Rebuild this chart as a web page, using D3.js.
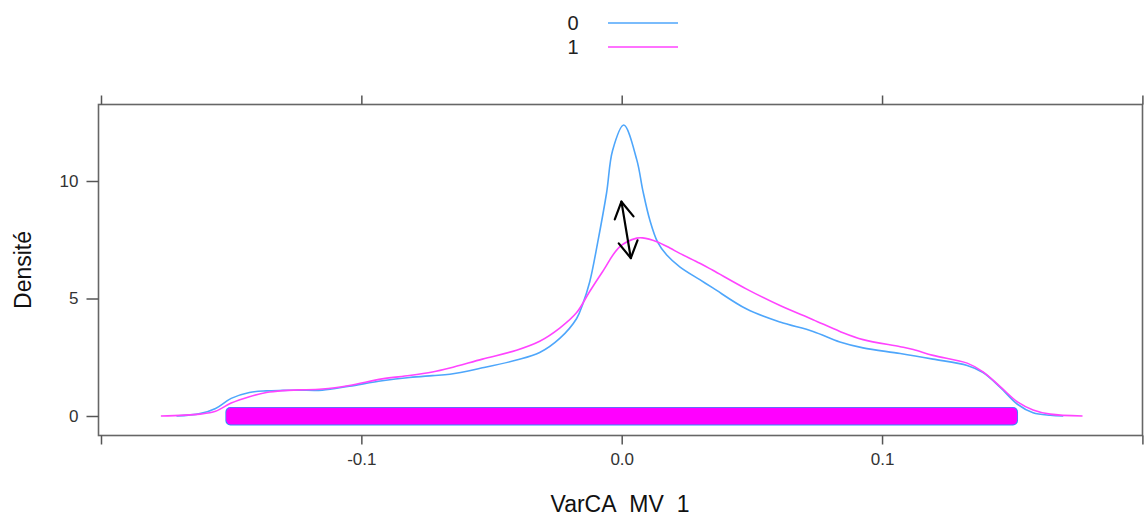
<!DOCTYPE html>
<html>
<head>
<meta charset="utf-8">
<script src="https://cdn.jsdelivr.net/npm/d3@7"></script>
<style>
  html, body { margin: 0; padding: 0; background: #fff; }
  svg { display: block; }
  text { font-family: "Liberation Sans", Arial, Helvetica, sans-serif; }
</style>
</head>
<body>
<svg id="chart" width="1144" height="515"></svg>
<script>
// ---------- data ----------
const groups = ["0", "1"];
const xTicks = [-0.2, -0.1, 0.0, 0.1, 0.2];
const xTickLabels = ["", "-0.1", "0.0", "0.1", ""];
const yTicks = [0, 5, 10];
const yTickLabels = ["0", "5", "10"];

// density of group 0 (x, density)
const dens0X = [-0.171, -0.162, -0.156, -0.150, -0.143, -0.1365, -0.130, -0.124, -0.115, -0.1046, -0.092, -0.0815, -0.0727, -0.066, -0.0535, -0.0404, -0.0315, -0.0238, -0.0173, -0.015, -0.0123, -0.0092, -0.0058, -0.0035, 0.0008, 0.0058, 0.0081, 0.0108, 0.0138, 0.0173, 0.0223, 0.030, 0.035, 0.048, 0.0608, 0.0735, 0.0838, 0.0927, 0.107, 0.1196, 0.1327, 0.1388, 0.1454, 0.152, 0.158, 0.1646, 0.1696];
const dens0Y = [0, 0.1, 0.32, 0.75, 1.0, 1.07, 1.09, 1.1, 1.1, 1.27, 1.5, 1.64, 1.72, 1.78, 2.05, 2.38, 2.7, 3.3, 4.15, 4.75, 5.7, 7.4, 9.5, 11.3, 12.38, 10.9, 9.6, 8.34, 7.4, 6.85, 6.35, 5.8, 5.45, 4.55, 4.0, 3.6, 3.15, 2.9, 2.66, 2.42, 2.15, 1.85, 1.22, 0.5, 0.14, 0.03, 0];

// density of group 1 (x, density)
const dens1X = [-0.177, -0.162, -0.156, -0.150, -0.143, -0.1365, -0.130, -0.124, -0.115, -0.1046, -0.092, -0.0815, -0.0727, -0.066, -0.0535, -0.0404, -0.0315, -0.0238, -0.0173, -0.0123, -0.0073, -0.0008, 0.0058, 0.008, 0.0135, 0.0185, 0.0223, 0.030, 0.035, 0.048, 0.0608, 0.0735, 0.0838, 0.0927, 0.107, 0.112, 0.1196, 0.1327, 0.1388, 0.1454, 0.152, 0.158, 0.1646, 0.177];
const dens1Y = [0, 0.08, 0.2, 0.55, 0.82, 1.0, 1.08, 1.11, 1.15, 1.3, 1.58, 1.72, 1.87, 2.04, 2.42, 2.8, 3.18, 3.74, 4.4, 5.3, 6.15, 7.2, 7.57, 7.58, 7.42, 7.15, 6.92, 6.5, 6.2, 5.4, 4.7, 4.1, 3.6, 3.25, 2.95, 2.83, 2.58, 2.25, 1.88, 1.25, 0.6, 0.26, 0.08, 0];

// extent of the jittered observations (rug band) per group
const rugMin = [-0.150, -0.150];
const rugMax = [0.150, 0.150];

// annotation arrow (data coords): top tip, bottom tip
const arrowX = [-0.0001, 0.0035];
const arrowY = [9.12, 6.72];

// ---------- layout ----------
const colors = ["#4ea6fb", "#ff44ff"];
const rugColors = ["#2f8cff", "#ff00ff"];
const svg = d3.select("#chart");
const frame = { left: 98.5, right: 1142.5, top: 104.5, bottom: 435.5 };

const x = d3.scaleLinear().domain([-0.2, 0.2]).range([101, 1142.4]);
const y = d3.scaleLinear().domain([0, 10]).range([416, 181]);

// rug bands (group 0 first, group 1 on top)
groups.forEach((g, i) => {
  const pad = i === 0 ? 0.8 : 0;
  svg.append("rect")
    .attr("x", x(rugMin[i]) - 5 - pad)
    .attr("y", y(0) - 8.2 - pad)
    .attr("width", x(rugMax[i]) - x(rugMin[i]) + 10 + 2 * pad)
    .attr("height", 16.8 + 2 * pad)
    .attr("rx", 5).attr("ry", 5)
    .attr("fill", rugColors[i]);
});

// density curves
const line = d3.line().x(d => x(d[0])).y(d => y(d[1])).curve(d3.curveCatmullRom.alpha(0.5));
const series = [d3.zip(dens0X, dens0Y), d3.zip(dens1X, dens1Y)];
series.forEach((s, i) => {
  svg.append("path").datum(s)
    .attr("d", line)
    .attr("fill", "none")
    .attr("stroke", colors[i])
    .attr("stroke-width", 1.6)
    .attr("stroke-linejoin", "round");
});

// frame
svg.append("rect")
  .attr("x", frame.left).attr("y", frame.top)
  .attr("width", frame.right - frame.left).attr("height", frame.bottom - frame.top)
  .attr("fill", "none").attr("stroke", "#666").attr("stroke-width", 1.6);

// axes
const axisStyle = g => {
  g.select(".domain").remove();
  g.selectAll(".tick line").attr("stroke", "#555").attr("stroke-width", 1.5);
  g.selectAll(".tick text").attr("fill", "#333").style("font-size", "17px")
    .style("font-family", "'Liberation Sans', Arial, sans-serif");
};
svg.append("g").attr("transform", `translate(0,${frame.bottom})`)
  .call(d3.axisBottom(x).tickValues(xTicks).tickSize(9).tickPadding(8)
    .tickFormat((d, i) => xTickLabels[i]))
  .call(axisStyle);
svg.append("g").attr("transform", `translate(0,${frame.top})`)
  .call(d3.axisTop(x).tickValues(xTicks).tickSize(9).tickFormat(""))
  .call(axisStyle);
svg.append("g").attr("transform", `translate(${frame.left},0)`)
  .call(d3.axisLeft(y).tickValues(yTicks).tickSize(12).tickPadding(8)
    .tickFormat((d, i) => yTickLabels[i]))
  .call(axisStyle);

// annotation arrow
const ax1 = x(arrowX[0]), ay1 = y(arrowY[0]), ax2 = x(arrowX[1]), ay2 = y(arrowY[1]);
const arrowG = svg.append("g").attr("stroke", "#000").attr("stroke-width", 2.2)
  .attr("fill", "none").attr("stroke-linecap", "round").attr("stroke-linejoin", "round");
arrowG.append("line").attr("x1", ax1).attr("y1", ay1).attr("x2", ax2).attr("y2", ay2);
const ang = Math.atan2(ay2 - ay1, ax2 - ax1);
const head = (px, py, dir) => {
  const L = 19, spread = Math.PI / 6;
  const a = ang + (dir > 0 ? 0 : Math.PI);
  const p1 = [px - L * Math.cos(a - spread), py - L * Math.sin(a - spread)];
  const p2 = [px - L * Math.cos(a + spread), py - L * Math.sin(a + spread)];
  arrowG.append("path").attr("d", `M${p1[0]},${p1[1]}L${px},${py}L${p2[0]},${p2[1]}`);
};
head(ax2, ay2, 1);
head(ax1, ay1, -1);

// axis titles
svg.append("text")
  .attr("transform", `translate(31,${(frame.top + frame.bottom) / 2}) rotate(-90)`)
  .attr("text-anchor", "middle")
  .style("font-size", "23px").attr("fill", "#111")
  .text("Densité");
svg.append("text")
  .attr("x", 620).attr("y", 512)
  .attr("text-anchor", "middle")
  .style("font-size", "23px").attr("fill", "#111")
  .text("VarCA_MV_1");

// legend
const legend = svg.append("g");
groups.forEach((g, i) => {
  const ly = 23 + i * 24;
  legend.append("text").attr("x", 573).attr("y", ly + 7)
    .attr("text-anchor", "middle").style("font-size", "20px").attr("fill", "#222")
    .text(g);
  legend.append("line").attr("x1", 608).attr("x2", 678).attr("y1", ly).attr("y2", ly)
    .attr("stroke", colors[i]).attr("stroke-width", 2).attr("opacity", 0.75);
});
</script>
</body>
</html>
